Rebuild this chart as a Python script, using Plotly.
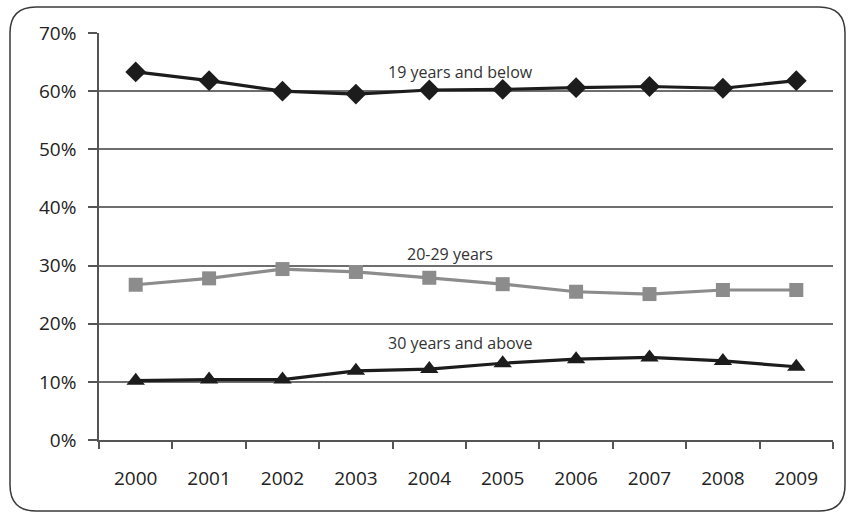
import plotly.graph_objects as go

years = ["2000", "2001", "2002", "2003", "2004", "2005", "2006", "2007", "2008", "2009"]
age_19_below = [63.3, 61.8, 60.0, 59.5, 60.2, 60.3, 60.6, 60.8, 60.5, 61.8]
age_20_29 = [26.7, 27.8, 29.4, 28.9, 27.9, 26.8, 25.5, 25.1, 25.8, 25.8]
age_30_above = [10.2, 10.4, 10.4, 11.9, 12.2, 13.2, 13.9, 14.2, 13.6, 12.6]
y_ticks = [0, 10, 20, 30, 40, 50, 60, 70]
y_tick_text = ["0%", "10%", "20%", "30%", "40%", "50%", "60%", "70%"]

W, H = 849, 515
ML, MR, MT, MB = 99, 16, 33, 75
PW, PH = W - ML - MR, H - MT - MB

fig = go.Figure()

fig.add_trace(go.Scatter(
    x=years, y=age_19_below, mode="lines+markers", name="19 years and below",
    line=dict(color="#1c1c1c", width=3.2),
    marker=dict(symbol="diamond", size=16, color="#1c1c1c"),
))
fig.add_trace(go.Scatter(
    x=years, y=age_20_29, mode="lines+markers", name="20-29 years",
    line=dict(color="#8c8c8c", width=3.2),
    marker=dict(symbol="square", size=14, color="#8c8c8c"),
))
fig.add_trace(go.Scatter(
    x=years, y=age_30_above, mode="lines+markers", name="30 years and above",
    line=dict(color="#1c1c1c", width=3.2),
    marker=dict(symbol="triangle-up", size=16, color="#1c1c1c"),
))

# series labels placed above each line
label_font = dict(family="Open Sans, Liberation Sans, sans-serif", size=16, color="#333333")
fig.add_annotation(x=4.42, y=63.3, xref="x", yref="y", text="19 years and below",
                   showarrow=False, font=label_font, xanchor="center", yanchor="middle")
fig.add_annotation(x=4.28, y=32.0, xref="x", yref="y", text="20-29 years",
                   showarrow=False, font=label_font, xanchor="center", yanchor="middle")
fig.add_annotation(x=4.42, y=16.6, xref="x", yref="y", text="30 years and above",
                   showarrow=False, font=label_font, xanchor="center", yanchor="middle")


def P(px, py):
    a, b = (px - ML) / PW, (H - MB - py) / PH
    return f"{a:.5f},{b:.5f}"


# rounded frame around the whole chart
x0, y0, x1, y1, r = 10, 7, 845, 511, 26
path = (
    f"M {P(x0 + r, y0)} L {P(x1 - r, y0)} Q {P(x1, y0)} {P(x1, y0 + r)} "
    f"L {P(x1, y1 - r)} Q {P(x1, y1)} {P(x1 - r, y1)} "
    f"L {P(x0 + r, y1)} Q {P(x0, y1)} {P(x0, y1 - r)} "
    f"L {P(x0, y0 + r)} Q {P(x0, y0)} {P(x0 + r, y0)} Z"
)
fig.add_shape(type="path", path=path, xref="paper", yref="paper",
              line=dict(color="#3a3a3a", width=1.5), layer="below")

tick_font = dict(family="Open Sans, Liberation Sans, sans-serif", size=19, color="#222222")

fig.update_layout(
    width=W, height=H,
    margin=dict(l=ML, r=MR, t=MT, b=MB),
    paper_bgcolor="white", plot_bgcolor="white",
    showlegend=False,
    xaxis=dict(
        type="category", tickson="boundaries", ticks="outside", ticklen=7,
        tickcolor="#555555", tickwidth=1.5, showgrid=False,
        showline=True, linecolor="#555555", linewidth=1.5,
        tickfont=tick_font, ticklabelstandoff=20,
        range=[-0.5, 9.5], zeroline=False,
    ),
    yaxis=dict(
        range=[0, 70], tickvals=y_ticks, ticktext=y_tick_text,
        ticks="outside", ticklen=9, tickcolor="#555555", tickwidth=1.5,
        showgrid=True, gridcolor="#6e6e6e", gridwidth=1.5,
        showline=True, linecolor="#555555", linewidth=1.5,
        tickfont=tick_font, ticklabelstandoff=8, zeroline=False,
    ),
)

fig.write_html("out.html")
